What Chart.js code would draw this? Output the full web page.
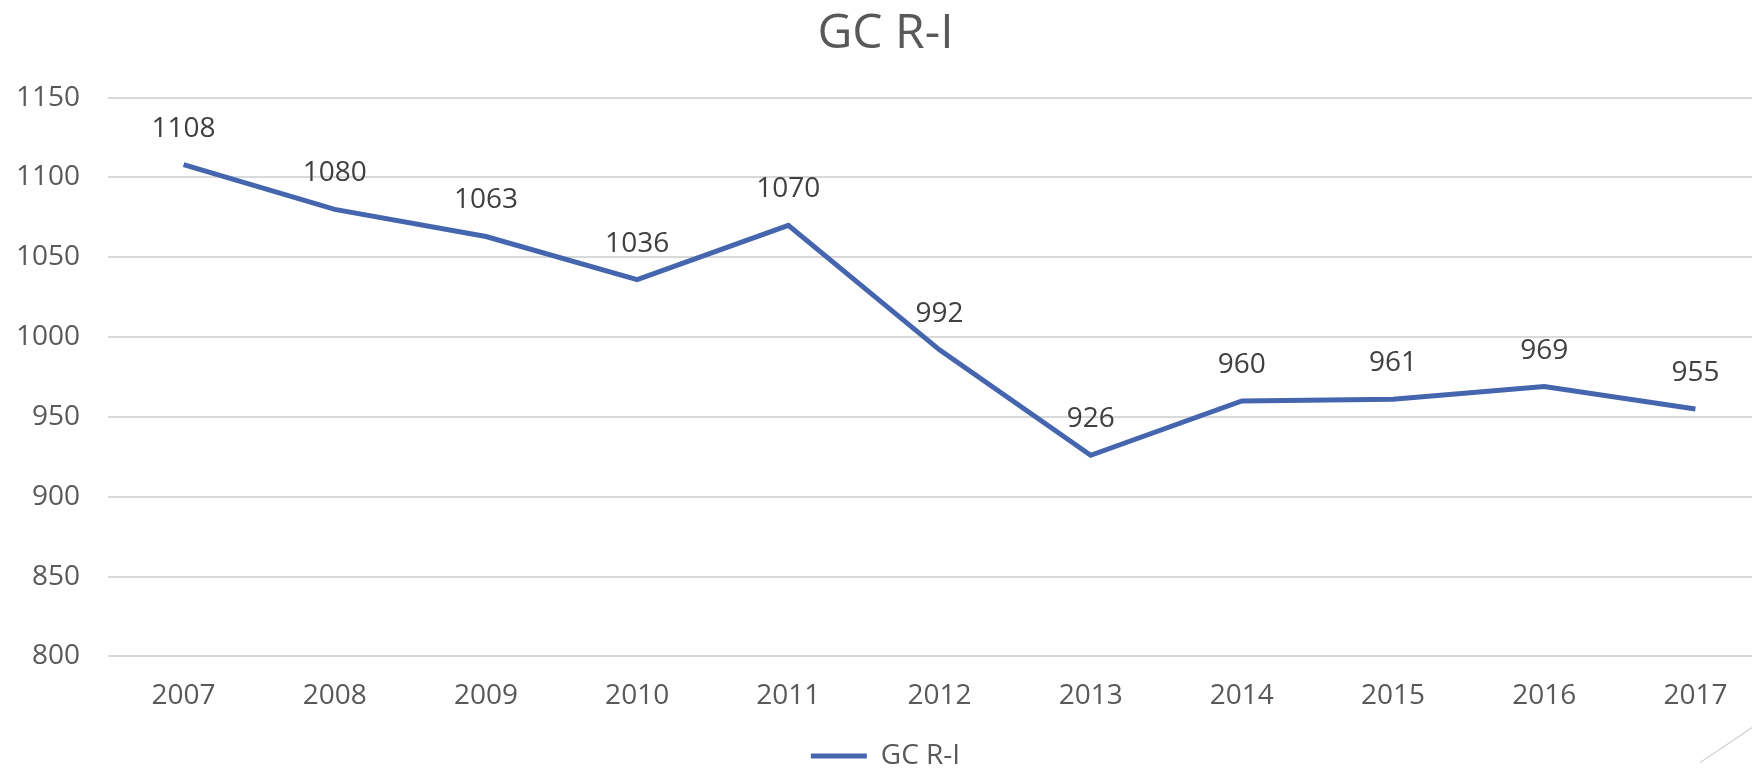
<!DOCTYPE html>
<html>
<head>
<meta charset="utf-8">
<script src="https://cdn.jsdelivr.net/npm/chart.js@4/dist/chart.umd.min.js"></script>
<style>
  html, body { margin: 0; padding: 0; background: #fff; overflow: hidden; }
  #wrap { width: 1752px; height: 770px; overflow: hidden; position: relative; }
  #box { width: 1796px; height: 780px; }
  /* raya decorativa de la diapositiva, esquina inferior derecha */
  #raya { position: absolute; left: 1700px; top: 762px; width: 80px; height: 0;
          border-top: 1px solid #c8c8c8; transform: rotate(-34deg); transform-origin: 0 0; }
</style>
</head>
<body>
<div id="wrap"><div id="box"><canvas id="grafica"></canvas></div><div id="raya"></div></div>
<script>
// datos de la serie
const years = ["2007", "2008", "2009", "2010", "2011", "2012", "2013", "2014", "2015", "2016", "2017"];
const gcValues = [1108, 1080, 1063, 1036, 1070, 992, 926, 960, 961, 969, 955];
const serieName = "GC R-I";
const yMin = 800, yMax = 1150, yStep = 50;

const fontFam = "'Open Sans', 'DejaVu Sans', sans-serif";

// etiquetas de valor encima de cada punto
const etiquetas = {
    id: 'etiquetas',
    afterDatasetsDraw(chart) {
        const ctx = chart.ctx;
        const meta = chart.getDatasetMeta(0);
        ctx.save();
        ctx.font = "28px " + fontFam;
        ctx.fillStyle = "#404040";
        ctx.textAlign = "center";
        ctx.textBaseline = "middle";
        meta.data.forEach(function(pt, i) {
            ctx.fillText(chart.data.datasets[0].data[i], pt.x, pt.y - 36);
        });
        ctx.restore();
    }
};

const grafica = document.getElementById('grafica').getContext('2d');
let config_grafica = {
    type: 'line',
    data: {
        labels: years,
        datasets: [{
            label: serieName,
            data: gcValues,
            borderColor: '#4566AE',
            backgroundColor: '#4566AE',
            borderWidth: 5,
            pointRadius: 0,
            tension: 0,
            fill: false
        }]
    },
    options: {
        responsive: true,
        maintainAspectRatio: false,
        animation: false,
        layout: {
            padding: { left: 0, right: 25, top: 0, bottom: 0 }
        },
        scales: {
            x: {
                offset: true,
                afterFit: function(scale) { scale.height += 6; },
                grid: { display: false, drawTicks: false },
                border: { display: false },
                ticks: {
                    color: "#595959",
                    padding: 23,
                    maxRotation: 0,
                    autoSkip: false,
                    font: { size: 28, family: fontFam }
                }
            },
            y: {
                min: yMin,
                max: yMax,
                afterFit: function(scale) { scale.width = 108; },
                grid: { color: "#d9d9d9", lineWidth: 2, drawTicks: false },
                border: { display: false },
                ticks: {
                    stepSize: yStep,
                    color: "#595959",
                    padding: 28,
                    callback: function(v) { return String(v); },
                    font: { size: 28, family: fontFam }
                }
            }
        },
        plugins: {
            title: {
                display: true,
                text: serieName,
                color: "#595959",
                padding: { top: 6, bottom: 34 },
                font: { size: 48, weight: 'normal', family: fontFam }
            },
            legend: {
                display: true,
                position: 'bottom',
                labels: {
                    color: "#595959",
                    usePointStyle: true,
                    pointStyle: 'line',
                    pointStyleWidth: 56,
                    padding: 0,
                    font: { size: 28, family: fontFam }
                }
            },
            tooltip: { enabled: false }
        }
    },
    plugins: [etiquetas]
};
const graficaChart = new Chart(grafica, config_grafica);
</script>
</body>
</html>
